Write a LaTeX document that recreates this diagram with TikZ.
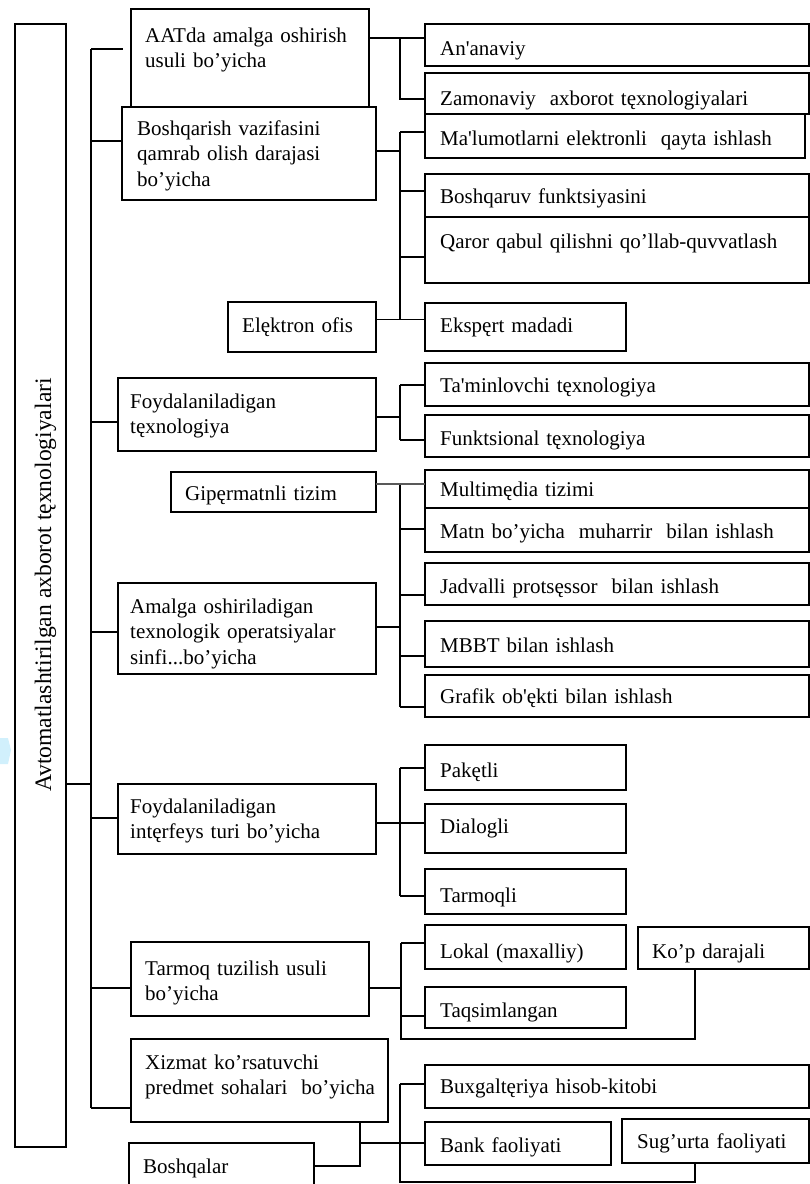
\documentclass[tikz,border=0pt]{standalone}
\usepackage{fontspec}
\setmainfont{Liberation Serif}
\newcommand\mkbox[5]{\node[bx, minimum width={(#4)-(#2)}, minimum height={(#5)-(#3)}] (#1) at (#2,#3) {};}
\begin{document}
\begin{tikzpicture}[x=1pt,y=-1pt,
  ln/.style={line width=1.2pt},
  bx/.style={draw, line width=1.2pt, fill=white, inner sep=0pt, outer sep=0pt, anchor=north west},
  tx/.style={inner sep=0pt, anchor=base west, text width=420pt, align=left, font=\fontsize{21}{25.5}\selectfont},
  gl/.style={line width=2.2pt, draw=black!65}]
\useasboundingbox (0,0) rectangle (810,1184);
\fill[cyan!18] (0,738) -- (8,738) -- (11,750) -- (8,764) -- (0,764) -- cycle;
% title box
\mkbox{T}{15}{24}{66}{1147}
\node[rotate=90, anchor=base, inner sep=0pt, font=\fontsize{23.6}{28}\selectfont] (title) at (51,585) {Avtomatlashtirilgan axborot tęxnologiyalari};
% left boxes
\mkbox{aat}{131}{9}{369}{107}
\mkbox{bvz}{122}{107}{376}{200}
\mkbox{elo}{228}{302}{376}{352}
\mkbox{fdt}{118}{378}{376}{451}
\mkbox{gip}{171}{472}{376}{512}
\mkbox{amg}{118}{583}{376}{674}
\mkbox{fit}{118}{784}{376}{854}
\mkbox{tmq}{131}{942}{369}{1016}
\mkbox{xzm}{131}{1039}{388}{1122}
\mkbox{bsh}{129}{1143}{314}{1200}
% right boxes
\mkbox{ana}{425}{24}{809}{66}
\mkbox{zam}{425}{73}{809}{114}
\mkbox{mal}{425}{114}{805}{158}
\mkbox{bfu}{425}{174}{809}{217}
\mkbox{qar}{425}{217}{809}{283}
\mkbox{eks}{425}{303}{626}{351}
\mkbox{tam}{425}{363}{809}{406}
\mkbox{fun}{425}{415}{809}{457}
\mkbox{mul}{425}{470}{809}{508}
\mkbox{mat}{425}{508}{809}{552}
\mkbox{jad}{425}{563}{809}{605}
\mkbox{mbb}{425}{621}{809}{667}
\mkbox{gra}{425}{675}{809}{717}
\mkbox{pak}{425}{745}{626}{790}
\mkbox{dia}{425}{804}{626}{853}
\mkbox{tql}{425}{869}{626}{914}
\mkbox{lok}{425}{925}{626}{969}
\mkbox{taq}{425}{987}{626}{1028}
\mkbox{kop}{638}{927}{809}{969}
\mkbox{bux}{425}{1065}{809}{1108}
\mkbox{ban}{425}{1122}{611}{1165}
\mkbox{sug}{622}{1119}{809}{1163}
% texts
\node[tx] (aat-t) at (145,42) {AATda amalga oshirish\\usuli bo’yicha};
\node[tx] (bvz-t) at (137,135) {Boshqarish vazifasini\\qamrab olish darajasi\\bo’yicha};
\node[tx] (elo-t) at (242,332) {Elęktron ofis};
\node[tx] (fdt-t) at (130,408) {Foydalaniladigan\\tęxnologiya};
\node[tx] (gip-t) at (185,500) {Gipęrmatnli tizim};
\node[tx] (amg-t) at (130,613) {Amalga oshiriladigan\\texnologik operatsiyalar\\sinfi...bo’yicha};
\node[tx] (fit-t) at (130,813) {Foydalaniladigan\\intęrfeys turi bo’yicha};
\node[tx] (tmq-t) at (145,975) {Tarmoq tuzilish usuli\\bo’yicha};
\node[tx] (xzm-t) at (145,1069) {Xizmat ko’rsatuvchi\\predmet sohalari\ \ bo’yicha};
\node[tx] (bsh-t) at (143,1173) {Boshqalar};
\node[tx] (ana-t) at (440,55) {An\textquotesingle anaviy};
\node[tx] (zam-t) at (440,105) {Zamonaviy\ \ axborot tęxnologiyalari};
\node[tx] (mal-t) at (440,145) {Ma\textquotesingle lumotlarni elektronli\ \ qayta ishlash};
\node[tx] (bfu-t) at (440,203) {Boshqaruv funktsiyasini};
\node[tx] (qar-t) at (440,248) {Qaror qabul qilishni qo’llab-quvvatlash};
\node[tx] (eks-t) at (440,332) {Ekspęrt madadi};
\node[tx] (tam-t) at (440,392) {Ta\textquotesingle minlovchi tęxnologiya};
\node[tx] (fun-t) at (440,445) {Funktsional tęxnologiya};
\node[tx] (mul-t) at (440,496) {Multimędia tizimi};
\node[tx] (mat-t) at (440,538) {Matn bo’yicha\ \ muharrir\ \ bilan ishlash};
\node[tx] (jad-t) at (440,593) {Jadvalli protsęssor\ \ bilan ishlash};
\node[tx] (mbb-t) at (440,652) {MBBT bilan ishlash};
\node[tx] (gra-t) at (440,703) {Grafik ob\textquotesingle ękti bilan ishlash};
\node[tx] (pak-t) at (440,777) {Pakętli};
\node[tx] (dia-t) at (440,833) {Dialogli};
\node[tx] (tql-t) at (440,902) {Tarmoqli};
\node[tx] (lok-t) at (440,958) {Lokal (maxalliy)};
\node[tx] (kop-t) at (652,958) {Ko’p darajali};
\node[tx] (taq-t) at (440,1017) {Taqsimlangan};
\node[tx] (bux-t) at (440,1093) {Buxgaltęriya hisob-kitobi};
\node[tx] (ban-t) at (440,1152) {Bank faoliyati};
\node[tx] (sug-t) at (637,1148) {Sug’urta faoliyati};
% spine
\coordinate (sp) at (91,784);
\coordinate (spT) at (91,49);
\coordinate (spB) at (91,1108);
\coordinate (stub) at (123,49);
\draw[ln] (T.east |- sp) -- (sp);
\draw[ln] (spT) -- (spB);
\draw[ln] (spT) -- (stub);
\foreach \yy/\nn in {141/bvz,422/fdt,632/amg,818/fit,988/tmq,1108/xzm}
  \draw[ln] (91,\yy) -- (\nn.west |- 91,\yy);
% AAT group
\coordinate (a1) at (400,38);
\coordinate (a2) at (400,99);
\draw[ln] (aat.east |- a1) -- (ana.west |- a1);
\draw[ln] (a1) -- (a2) -- (zam.west |- a2);
% Boshqarish group
\coordinate (b0) at (400,151);
\coordinate (b1) at (400,132);
\coordinate (b2) at (400,191);
\coordinate (b3) at (400,257);
\coordinate (b4) at (400,319.5);
\draw[ln] (bvz.east |- b0) -- (b0);
\draw[ln] (b1) -- (b4);
\draw[ln] (b1) -- (mal.west |- b1);
\draw[ln] (b2) -- (bfu.west |- b2);
\draw[ln] (b3) -- (qar.west |- b3);
\draw[ln] (elo.east |- b4) -- (eks.west |- b4);
% Foydalaniladigan texnologiya group
\coordinate (f0) at (400,417);
\coordinate (f1) at (400,385);
\coordinate (f2) at (400,440);
\draw[ln] (fdt.east |- f0) -- (f0);
\draw[ln] (f1) -- (f2);
\draw[ln] (f1) -- (tam.west |- f1);
\draw[ln] (f2) -- (fun.west |- f2);
% Amalga group
\coordinate (g1) at (400,484);
\coordinate (g2) at (400,529);
\coordinate (g3) at (400,595);
\coordinate (g0) at (400,627);
\coordinate (g4) at (400,656);
\coordinate (g5) at (400,707);
\draw[ln] (g1) -- (g5);
\draw[gl] (gip.east |- g1) -- (mul.west |- g1);
\draw[ln] (amg.east |- g0) -- (g0);
\draw[ln] (g2) -- (mat.west |- g2);
\draw[ln] (g3) -- (jad.west |- g3);
\draw[ln] (g4) -- (mbb.west |- g4);
\draw[ln] (g5) -- (gra.west |- g5);
% interfeys group
\coordinate (i0) at (400,823);
\coordinate (i1) at (400,768);
\coordinate (i2) at (400,896);
\draw[ln] (fit.east |- i0) -- (dia.west |- i0);
\draw[ln] (i1) -- (i2);
\draw[ln] (i1) -- (pak.west |- i1);
\draw[ln] (i2) -- (tql.west |- i2);
% Tarmoq group
\coordinate (t0) at (401,988);
\coordinate (t1) at (401,943);
\coordinate (t2) at (401,1016);
\coordinate (t3) at (401,1039);
\coordinate (t4) at (695,1039);
\draw[ln] (tmq.east |- t0) -- (t0);
\draw[ln] (t1) -- (t3) -- (t4) -- (t4 |- kop.south);
\draw[ln] (t1) -- (lok.west |- t1);
\draw[ln] (t2) -- (taq.west |- t2);
% Xizmat group
\coordinate (x0) at (360,1122);
\coordinate (x1) at (360,1143);
\coordinate (x2) at (360,1166);
\coordinate (x3) at (400,1084);
\coordinate (x4) at (400,1182);
\coordinate (x5) at (695,1182);
\draw[ln] (x0) -- (x2) -- (bsh.east |- x2);
\draw[ln] (x1) -- (ban.west |- x1);
\draw[ln] (x3) -- (x4) -- (x5) -- (x5 |- sug.south);
\draw[ln] (x3) -- (bux.west |- x3);
\end{tikzpicture}
\end{document}
